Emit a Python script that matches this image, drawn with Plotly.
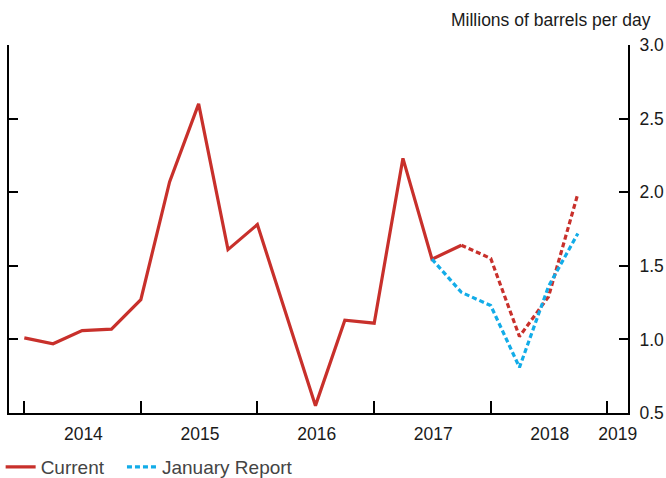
import plotly.graph_objects as go

quarters = ["2014-01-01", "2014-04-01", "2014-07-01", "2014-10-01",
            "2015-01-01", "2015-04-01", "2015-07-01", "2015-10-01",
            "2016-01-01", "2016-04-01", "2016-07-01", "2016-10-01",
            "2017-01-01", "2017-04-01", "2017-07-01", "2017-10-01",
            "2018-01-01", "2018-04-01", "2018-07-01", "2018-10-01"]

current = [1.01, 0.97, 1.06, 1.07, 1.27, 2.07, 2.60, 1.61, 1.78, 1.17,
           0.55, 1.13, 1.11, 2.23, 1.545, 1.64, 1.55, 1.02, 1.29, 1.99]
n_actual = 16  # solid through 2017 Q4, dotted afterwards

january_x = quarters[14:]
january = [1.545, 1.32, 1.23, 0.81, 1.36, 1.72]

year_ticks = ["2014-01-01", "2015-01-01", "2016-01-01", "2017-01-01",
              "2018-01-01", "2019-01-01"]
label_pos = ["2014-07-05", "2015-07-05", "2016-07-05", "2017-07-05",
             "2018-07-05", "2019-02-03"]
label_text = ["2014", "2015", "2016", "2017", "2018", "2019"]

x_range = ["2013-11-14", "2019-03-07"]

RED = "#c8302b"
BLUE = "#12ace8"
FONT = "Liberation Sans"

fig = go.Figure()
fig.add_trace(go.Scatter(x=quarters[:n_actual], y=current[:n_actual],
                         mode="lines", name="Current", legend="legend",
                         line=dict(color=RED, width=3.2)))
fig.add_trace(go.Scatter(x=quarters[n_actual - 1:], y=current[n_actual - 1:],
                         mode="lines", showlegend=False,
                         line=dict(color=RED, width=3.2, dash="5px,3px")))
fig.add_trace(go.Scatter(x=january_x, y=january, mode="lines",
                         name="January Report", legend="legend2",
                         line=dict(color=BLUE, width=3.2, dash="5px,3px")))
# invisible helper trace to activate overlay axes
fig.add_trace(go.Scatter(x=[quarters[0]], y=[current[0]], xaxis="x2",
                         yaxis="y2", mode="markers", showlegend=False,
                         marker=dict(opacity=0), hoverinfo="skip"))

legend_common = dict(orientation="h", xanchor="left", y=-0.147,
                     yanchor="middle", font=dict(size=19, color="#444"),
                     bgcolor="rgba(0,0,0,0)", itemwidth=30)

fig.update_layout(
    width=666, height=478,
    margin=dict(l=8.5, r=38, t=45, b=65, autoexpand=False),
    paper_bgcolor="white", plot_bgcolor="white",
    font=dict(family=FONT, size=17.5, color="#1a1a1a"),
    showlegend=True,
    legend=dict(x=-0.0135, **legend_common),
    legend2=dict(x=0.1825, **legend_common),
    xaxis=dict(type="date", range=x_range, tickvals=year_ticks,
               showticklabels=False, ticks="inside", ticklen=12,
               tickwidth=2, tickcolor="black", showline=True,
               linecolor="black", linewidth=2, showgrid=False,
               zeroline=False),
    xaxis2=dict(type="date", range=x_range, overlaying="x", anchor="y",
                side="bottom", tickvals=label_pos, ticktext=label_text,
                ticks="", showline=False, showgrid=False, zeroline=False,
                ticklabelstandoff=8),
    yaxis=dict(range=[0.5, 3.0], dtick=0.5, tickformat=".1f", side="right",
               ticks="inside", ticklen=9, tickwidth=2, tickcolor="black",
               showline=True, linecolor="black", linewidth=2,
               showgrid=False, zeroline=False, ticklabelstandoff=6),
    yaxis2=dict(range=[0.5, 3.0], dtick=0.5, overlaying="y", side="left",
                anchor="x", ticks="inside", ticklen=9, tickwidth=2,
                tickcolor="black", showticklabels=False, showline=True,
                linecolor="black", linewidth=2, showgrid=False,
                zeroline=False),
    annotations=[dict(text="Millions of barrels per day", xref="paper",
                      yref="paper", x=1.0404, y=1.068, xanchor="right",
                      yanchor="middle", showarrow=False,
                      font=dict(size=17.5, color="#1a1a1a"))],
)

fig.write_html("out.html", config={"displayModeBar": False},
               post_script="document.body.style.margin='0px';")
